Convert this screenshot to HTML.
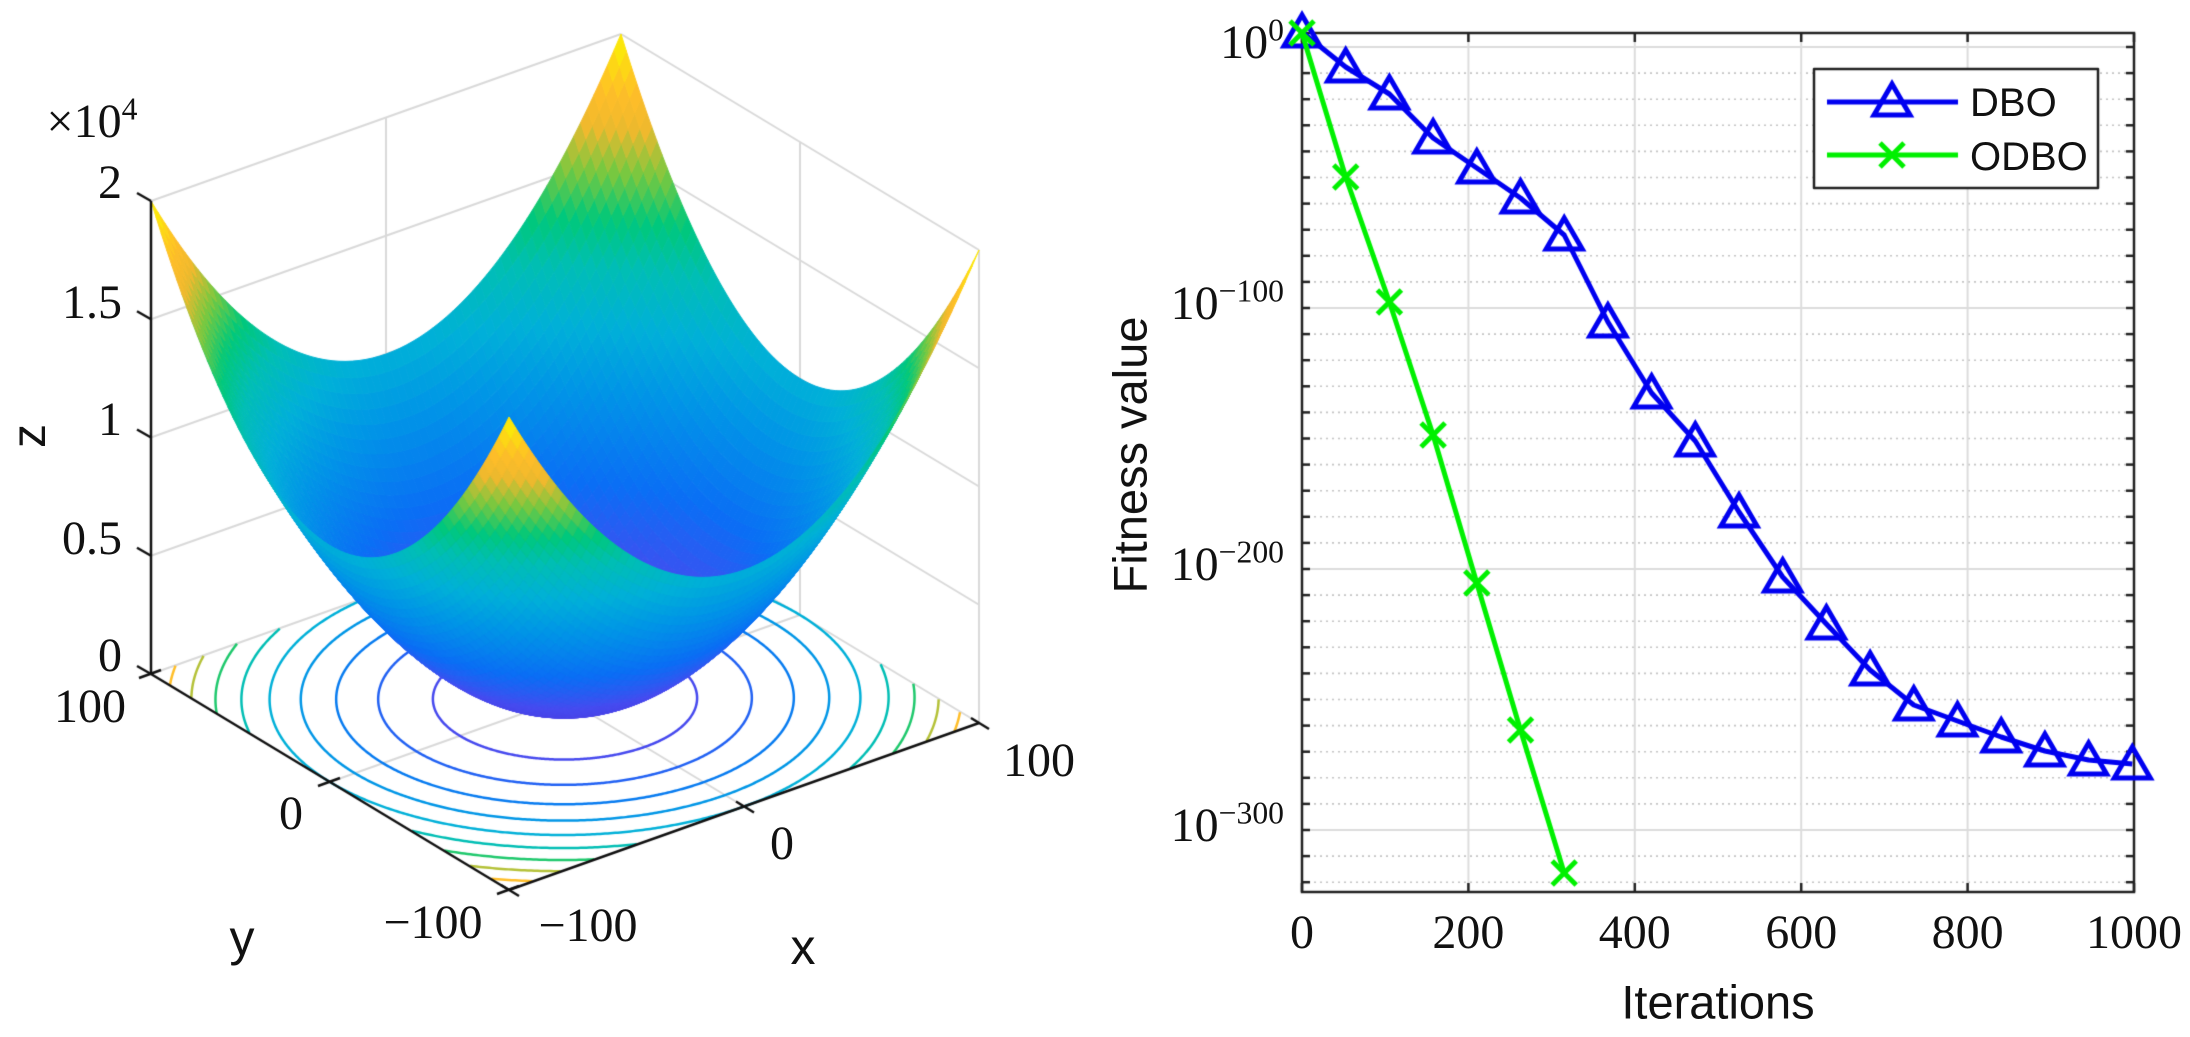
<!DOCTYPE html>
<html><head><meta charset="utf-8">
<style>
html,body{margin:0;padding:0;background:#fff;}
#wrap{position:relative;width:2190px;height:1037px;overflow:hidden;background:#fff;}
canvas{position:absolute;left:0;top:0;}
.t{position:absolute;white-space:nowrap;font-family:"Liberation Serif",serif;font-size:48px;color:#111;line-height:1;}
.s{font-family:"Liberation Sans",sans-serif;}
sup{font-size:0.66em;vertical-align:0.55em;line-height:0;}
</style></head>
<body><div id="wrap"><canvas id="c" width="2190" height="1037"></canvas></div>
<script>
const cv=document.getElementById('c'),g=cv.getContext('2d');
const wrap=document.getElementById('wrap');
function T(html,x,y,al,cls){const d=document.createElement('div');d.className='t '+(cls||'');d.innerHTML=html;d.style.left=x+'px';d.style.top=y+'px';
 let tx=al==='r'?'-100%':al==='l'?'0':'-50%';d.style.transform='translate('+tx+',-50%)';wrap.appendChild(d);return d;}
const stops=[[0,[72,60,225]],[0.12,[70,75,240]],[0.25,[10,110,245]],[0.4,[0,150,230]],[0.5,[0,176,216]],[0.6,[0,190,180]],[0.68,[0,200,122]],[0.76,[120,200,64]],[0.84,[240,185,45]],[0.9,[255,190,40]],[1,[250,245,0]]];
function cmap(t){t=Math.max(0,Math.min(1,t));for(let i=1;i<stops.length;i++){if(t<=stops[i][0]){const a=stops[i-1],b=stops[i];const f=(t-a[0])/(b[0]-a[0]);return 'rgb('+a[1].map((v,k)=>Math.round(v+(b[1][k]-v)*f)).join(',')+')';}}return 'rgb(250,245,0)';}
function P(x,y,z){return [565+235*x-179*y,698.5-83.5*x-108*y-236.5*z];}
function line(a,b,col,w,dash){g.beginPath();g.moveTo(a[0],a[1]);g.lineTo(b[0],b[1]);g.strokeStyle=col;g.lineWidth=w;g.setLineDash(dash||[]);g.stroke();g.setLineDash([]);}
const GR='#d9d9d9';
for(let z=0;z<=2.001;z+=0.5){line(P(-1,1,z),P(1,1,z),GR,2);line(P(1,1,z),P(1,-1,z),GR,2);}
line(P(1,1,0),P(1,1,2),GR,2);line(P(1,-1,0),P(1,-1,2),GR,2);
line(P(0,1,0),P(0,1,2),GR,2);line(P(1,0,0),P(1,0,2),GR,2);
line(P(0,-1,0),P(0,1,0),GR,2);line(P(-1,0,0),P(1,0,0),GR,2);
for(let L=0.2;L<1.81;L+=0.2){const r=Math.sqrt(L);g.strokeStyle=cmap(L/2);g.lineWidth=2.5;g.beginPath();let pen=false;
 for(let i=0;i<=720;i++){const a=i/720*2*Math.PI;const x=r*Math.cos(a),y=r*Math.sin(a);
  if(Math.abs(x)<=1&&Math.abs(y)<=1){const p=P(x,y,0);if(pen)g.lineTo(p[0],p[1]);else{g.moveTo(p[0],p[1]);pen=true;}}else pen=false;}
 g.stroke();}
const N=70,quads=[];
for(let i=0;i<N;i++)for(let j=0;j<N;j++){const x0=-1+2*i/N,x1=-1+2*(i+1)/N,y0=-1+2*j/N,y1=-1+2*(j+1)/N;
 const f=(x,y)=>x*x+y*y;const xc=(x0+x1)/2,yc=(y0+y1)/2;const zc=(f(x0,y0)+f(x1,y0)+f(x1,y1)+f(x0,y1))/4;
 quads.push({d:42333*xc+55578*yc-40326*zc,pts:[P(x0,y0,f(x0,y0)),P(x1,y0,f(x1,y0)),P(x1,y1,f(x1,y1)),P(x0,y1,f(x0,y1))],c:cmap(zc/2)});}
quads.sort((a,b)=>b.d-a.d);
for(const q of quads){g.beginPath();g.moveTo(q.pts[0][0],q.pts[0][1]);for(let k=1;k<4;k++)g.lineTo(q.pts[k][0],q.pts[k][1]);g.closePath();g.fillStyle=q.c;g.fill();g.strokeStyle=q.c;g.lineWidth=1;g.stroke();}
const K='#111';
line(P(-1,1,0),P(-1,1,2),K,2.5);
line(P(-1,1,0),P(-1,-1,0),K,2.5);
line(P(-1,-1,0),P(1,-1,0),K,2.5);
for(let z=0;z<=2.001;z+=0.5){const p=P(-1,1,z);line(p,[p[0]-14,p[1]-8],K,2.5);}
for(const y of [1,0,-1]){const p=P(-1,y,0);line([p[0]+10,p[1]-4],[p[0]-12,p[1]+4],K,2.5);}
for(const x of [-1,0,1]){const p=P(x,-1,0);line([p[0]-8,p[1]-5],[p[0]+10,p[1]+6],K,2.5);}
T('2',122,183,'r');T('1.5',122,303,'r');T('1',122,420,'r');T('0.5',122,539,'r');T('0',122,656,'r');
T('&times;10<sup>4</sup>',92,122,'c');
const zl=T('z',30,436,'c','s');zl.style.fontSize='48px';zl.style.transform='translate(-50%,-50%) rotate(-90deg)';
T('100',90,707,'c');T('0',291,814,'c');T('&minus;100',433,923,'c');
T('&minus;100',588,926,'c');T('0',782,844,'c');T('100',1039,761,'c');
T('y',242,938,'c','s').style.fontSize='50px';T('x',803,947,'c','s').style.fontSize='50px';
const L0=1302,R0=2134,TOP=33,BOT=892;
const yd=d=>47-2.61*d;
const xi=i=>L0+(R0-L0)*i/1000;
for(let k=1;k<=32;k++){const y=47+26.1*k;if(k%10===0)continue;line([L0,y],[R0,y],'#c4c4c4',1.6,[2,4]);}
for(const e of [0,-100,-200,-300])line([L0,yd(e)],[R0,yd(e)],'#dcdcdc',2);
for(let i=200;i<1000;i+=200)line([xi(i),TOP],[xi(i),BOT],'#dcdcdc',2);
g.strokeStyle='#222';g.lineWidth=2.5;g.strokeRect(L0,TOP,R0-L0,BOT-TOP);
for(let k=0;k<=32;k++){const y=47+26.1*k;line([L0,y],[L0+8,y],'#222',2.5);line([R0,y],[R0-8,y],'#222',2.5);}
for(let i=0;i<=1000;i+=200){line([xi(i),BOT],[xi(i),BOT-9],'#222',2.5);line([xi(i),TOP],[xi(i),TOP+9],'#222',2.5);}
const dby=[32,67,94,138,168,198,235,322,393,441,512,577,624,670,705,721,737,751,760,764];
const grn=[33,177,302,435,583,730,873];
const xk=k=>L0+43.7*k;
function poly(ys,col){g.beginPath();ys.forEach((y,k)=>{k?g.lineTo(xk(k),y):g.moveTo(xk(k),y);});g.strokeStyle=col;g.lineWidth=5;g.lineJoin='round';g.stroke();}
function tri(x,y,col){g.beginPath();g.moveTo(x,y-17);g.lineTo(x-18,y+14);g.lineTo(x+18,y+14);g.closePath();g.strokeStyle=col;g.lineWidth=5;g.lineJoin='miter';g.stroke();}
function cross(x,y,col){line([x-12,y-12],[x+12,y+12],col,5);line([x-12,y+12],[x+12,y-12],col,5);}
poly(dby,'#0000f0');dby.forEach((y,k)=>tri(xk(k),y,'#0000f0'));
poly(grn,'#00f000');grn.forEach((y,k)=>cross(xk(k),y,'#00f000'));
g.fillStyle='#fff';g.fillRect(1814,69,284,119);g.strokeStyle='#222';g.lineWidth=2.5;g.strokeRect(1814,69,284,119);
line([1827,102],[1958,102],'#0000f0',5);tri(1892,101,'#0000f0');
line([1827,155],[1958,155],'#00f000',5);cross(1892,155,'#00f000');
T('DBO',1970,103,'l','s').style.fontSize='40px';
T('ODBO',1970,157,'l','s').style.fontSize='40px';
T('10<sup>0</sup>',1284,43,'r');T('10<sup>&minus;100</sup>',1284,304,'r');T('10<sup>&minus;200</sup>',1284,565,'r');T('10<sup>&minus;300</sup>',1284,826,'r');
for(let i=0;i<=1000;i+=200)T(String(i),xi(i),933,'c');
T('Iterations',1718,1002,'c','s').style.fontSize='47px';
const fv=T('Fitness value',1130,455,'c','s');fv.style.fontSize='47px';fv.style.transform='translate(-50%,-50%) rotate(-90deg)';
</script>
</body></html>
